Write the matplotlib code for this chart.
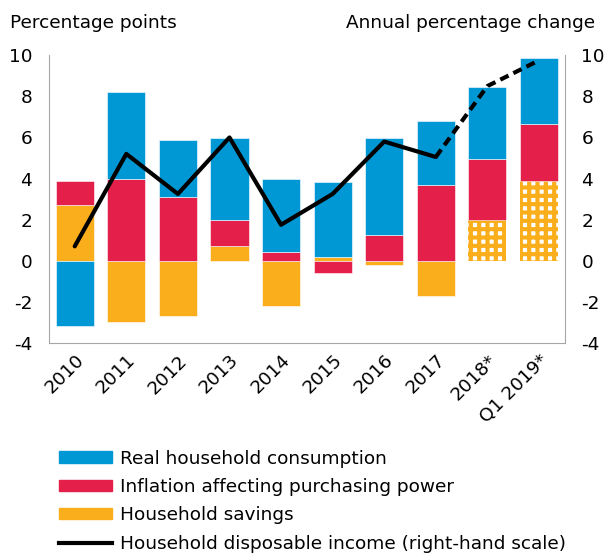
import numpy as np
from matplotlib import pyplot as plt
from matplotlib.lines import Line2D
from matplotlib.patches import Patch

categories = ['2010', '2011', '2012', '2013', '2014', '2015', '2016', '2017', '2018*', 'Q1 2019*']
consumption = [-3.2, 4.2, 2.8, 3.95, 3.6, 3.65, 4.7, 3.1, 3.5, 3.2]
inflation = [1.2, 4.0, 3.1, 1.3, 0.4, -0.6, 1.25, 3.7, 2.95, 2.75]
savings = [2.7, -3.0, -2.7, 0.7, -2.2, 0.2, -0.2, -1.7, 2.0, 3.9]
income = [0.7, 5.2, 3.25, 6.0, 1.75, 3.25, 5.8, 5.05, 8.5, 9.75]
forecast = [False] * 8 + [True, True]

blue = '#0098D4'
red = '#E31F4A'
orange = '#FBAE1B'
fs = 13.3

plt.rcParams['font.family'] = 'DejaVu Sans'
plt.rcParams['hatch.linewidth'] = 3.0

fig = plt.figure(figsize=(6.04, 5.53), dpi=100)
ax = fig.add_axes([0.081, 0.380, 0.854, 0.520])

x = np.arange(len(categories))
width = 0.74
pos_base = np.zeros(len(x))
neg_base = np.zeros(len(x))

# stack savings, inflation, consumption: positives upward, negatives downward
for values, color, name in [(savings, orange, 'sav'), (inflation, red, 'inf'), (consumption, blue, 'con')]:
    values = np.array(values)
    bottoms = np.where(values >= 0, pos_base, neg_base)
    for i in range(len(x)):
        if name == 'sav' and forecast[i]:
            # forecast savings: white squares on orange
            ax.bar(x[i], values[i], width, bottom=bottoms[i], color='white',
                   edgecolor=orange, hatch='++', linewidth=0)
        else:
            ax.bar(x[i], values[i], width, bottom=bottoms[i], color=color,
                   edgecolor='white', linewidth=0.4)
    pos_base = pos_base + np.where(values >= 0, values, 0)
    neg_base = neg_base + np.where(values < 0, values, 0)

ax.set_xlim(-0.5, len(x) - 0.5)
ax.set_ylim(-4, 10)
ax.set_yticks(range(-4, 11, 2))
ax.set_yticklabels([str(v) for v in range(-4, 11, 2)])
ax.set_xticks(x)
ax.set_xticklabels(categories, rotation=45, ha='right', rotation_mode='anchor')
ax.tick_params(length=0, labelsize=fs, pad=12)
ax.tick_params(axis='x', pad=6)

for s in ['left', 'right', 'bottom']:
    ax.spines[s].set_color('#A6A6A6')
ax.spines['top'].set_visible(False)

ax2 = ax.twinx()
ax2.set_ylim(-4, 10)
ax2.set_yticks(range(-4, 11, 2))
ax2.set_yticklabels([str(v) for v in range(-4, 11, 2)])
ax2.tick_params(length=0, labelsize=fs, pad=12)
for s in ax2.spines.values():
    s.set_visible(False)

ax2.plot(x[:8], income[:8], color='black', lw=3, solid_capstyle='round', zorder=5)
ax2.plot(x[7:], income[7:], color='black', lw=3, ls=(0, (2.2, 1.3)), zorder=5)

fig.text(0.017, 0.958, 'Percentage points', fontsize=fs, ha='left', va='center')
fig.text(0.985, 0.958, 'Annual percentage change', fontsize=fs, ha='right', va='center')

handles = [Patch(color=blue), Patch(color=red), Patch(color=orange),
           Line2D([0], [0], color='black', lw=3)]
labels = ['Real household consumption', 'Inflation affecting purchasing power',
          'Household savings', 'Household disposable income (right-hand scale)']
fig.legend(handles, labels, loc='upper left', bbox_to_anchor=(0.097, 0.187),
           frameon=False, fontsize=fs, handlelength=2.9, handleheight=0.55,
           handletextpad=0.45, labelspacing=0.56, borderpad=0, borderaxespad=0)

fig.savefig('out.png', dpi=100)
